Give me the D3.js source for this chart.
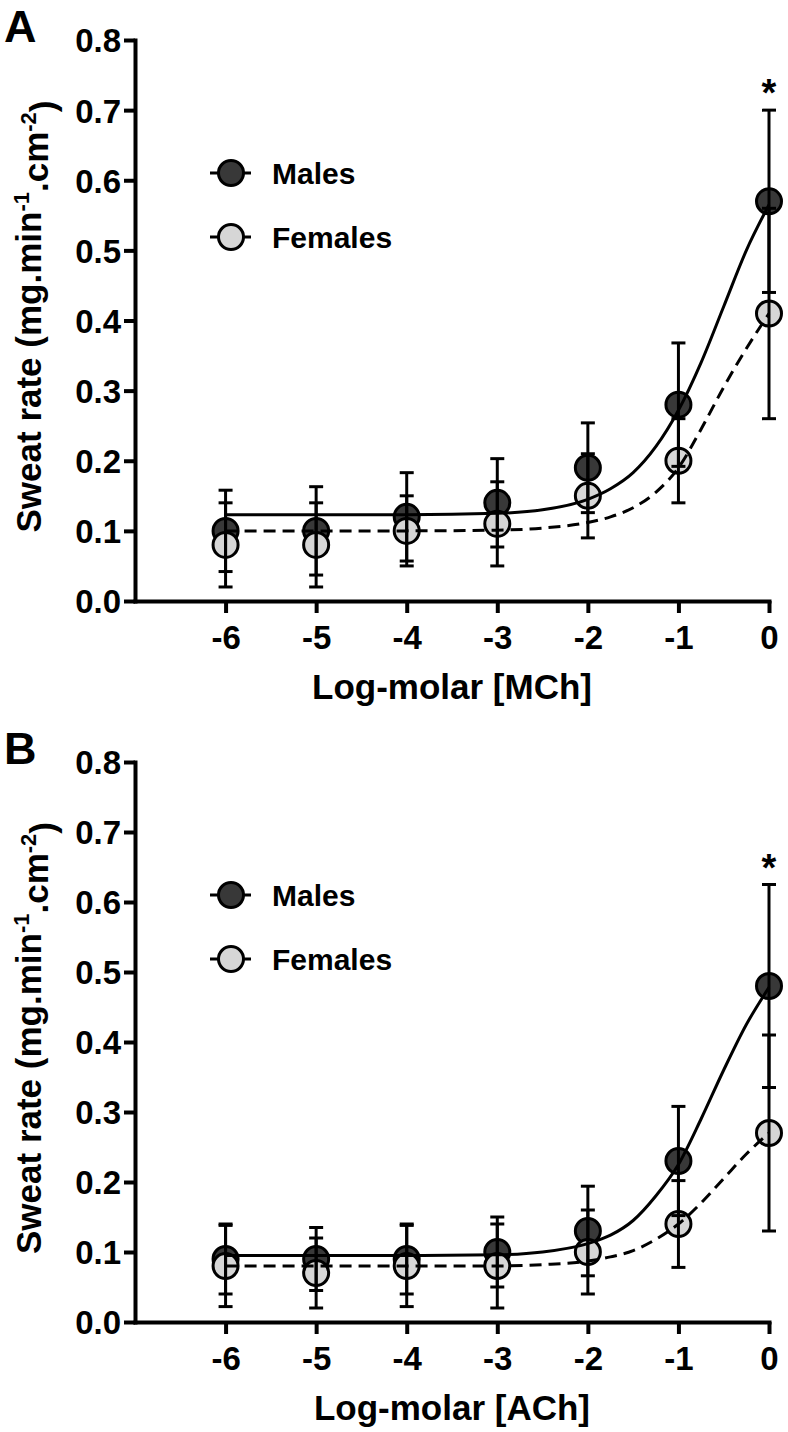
<!DOCTYPE html>
<html>
<head>
<meta charset="utf-8">
<script src="https://cdn.jsdelivr.net/npm/d3@7"></script>
<style>
  html, body { margin: 0; padding: 0; background: #fff; }
  svg text { font-family: "Liberation Sans", Arial, sans-serif; font-weight: bold; fill: #000; }
</style>
</head>
<body>
<svg id="chart" width="788" height="1432"></svg>
<script>
// ---------------- data ----------------
const doses = [-6, -5, -4, -3, -2, -1, 0];
const xTicks = [-6, -5, -4, -3, -2, -1, 0];
const yTicks = [0.0, 0.1, 0.2, 0.3, 0.4, 0.5, 0.6, 0.7, 0.8];

// Panel A: methacholine (MCh)
const mchMales      = [0.10, 0.10, 0.12, 0.14, 0.19, 0.28, 0.57];
const mchMalesSD    = [0.058, 0.063, 0.063, 0.063, 0.064, 0.088, 0.13];
const mchFemales    = [0.08, 0.08, 0.10, 0.11, 0.15, 0.20, 0.41];
const mchFemalesSD  = [0.06, 0.06, 0.05, 0.06, 0.06, 0.06, 0.15];

// Panel B: acetylcholine (ACh)
const achMales      = [0.09, 0.09, 0.09, 0.10, 0.13, 0.23, 0.48];
const achMalesSD    = [0.05, 0.045, 0.05, 0.05, 0.064, 0.078, 0.145];
const achFemales    = [0.08, 0.07, 0.08, 0.08, 0.10, 0.14, 0.27];
const achFemalesSD  = [0.058, 0.05, 0.058, 0.06, 0.06, 0.062, 0.14];

// fitted dose-response curves
const fitDoses       = [-6, -5, -4, -3, -2.5, -2, -1.75, -1.5, -1.25, -1, -0.75, -0.5, -0.25, 0];
const mchMalesFit    = [0.123, 0.123, 0.123, 0.125, 0.130, 0.145, 0.160, 0.183, 0.220, 0.272, 0.340, 0.420, 0.500, 0.565];
const mchFemalesFit  = [0.100, 0.100, 0.100, 0.101, 0.104, 0.112, 0.120, 0.133, 0.155, 0.190, 0.245, 0.305, 0.360, 0.410];
const achMalesFit    = [0.095, 0.095, 0.095, 0.096, 0.100, 0.112, 0.124, 0.145, 0.180, 0.225, 0.290, 0.360, 0.425, 0.478];
const achFemalesFit  = [0.080, 0.080, 0.080, 0.080, 0.082, 0.087, 0.093, 0.102, 0.118, 0.140, 0.170, 0.205, 0.240, 0.270];

const seriesNames = ["Males", "Females"];
const panelLetters = ["A", "B"];
const xTitles = ["Log-molar [MCh]", "Log-molar [ACh]"];
const sigMark = "*";

// ---------------- drawing ----------------
const svg = d3.select("#chart");
const maleFill = "#383838", femaleFill = "#d6d6d6";
const R = 12.5;

function drawPanel(cfg) {
  const g = svg.append("g");
  const x = d3.scaleLinear().domain([-7, 0]).range([135, 769]);
  const y = d3.scaleLinear().domain([0, 0.8]).range([cfg.bottom, cfg.top]);

  // axes
  const xAxis = g.append("g").attr("transform", `translate(0,${cfg.bottom})`)
    .call(d3.axisBottom(x).tickValues(xTicks).tickSize(12).tickSizeOuter(0).tickPadding(12).tickFormat(d3.format("d")));
  const yAxis = g.append("g").attr("transform", `translate(135,0)`)
    .call(d3.axisLeft(y).tickValues(yTicks).tickSize(11).tickSizeOuter(0).tickPadding(3).tickFormat(d3.format(".1f")));
  [xAxis, yAxis].forEach(a => {
    a.select(".domain").attr("stroke", "#000").attr("stroke-width", 4).attr("stroke-linecap", "square");
    a.selectAll(".tick line").attr("stroke", "#000").attr("stroke-width", 4);
    a.selectAll(".tick text").style("font-size", "33px").style("font-family", '"Liberation Sans", Arial, sans-serif').style("font-weight", "bold").attr("fill", "#000");
  });
  xAxis.selectAll(".tick text").attr("dy", "0.72em").text(d => d === 0 ? "0" : "-" + Math.abs(d));
  yAxis.selectAll(".tick text").attr("dy", "0.36em");

  // axis titles
  g.append("text").attr("x", 452).attr("y", cfg.bottom + 98).attr("text-anchor", "middle")
    .style("font-size", "35px").text(cfg.xTitle);
  const yt = g.append("text").attr("transform", `translate(41,${(cfg.top + cfg.bottom) / 2 - 4}) rotate(-90)`)
    .attr("text-anchor", "middle").style("font-size", "35px");
  yt.append("tspan").text("Sweat rate (mg.min");
  yt.append("tspan").attr("dy", "-0.55em").style("font-size", "22px").text("-1");
  yt.append("tspan").attr("dy", "0.55em").text(".cm");
  yt.append("tspan").attr("dy", "-0.55em").style("font-size", "22px").text("-2");
  yt.append("tspan").attr("dy", "0.55em").text(")");

  // panel letter
  g.append("text").attr("x", 4).attr("y", cfg.top + 2).style("font-size", "45px").text(cfg.letter);

  const males = doses.map((d, i) => ({ d, v: cfg.males[i], sd: cfg.malesSD[i] }));
  const females = doses.map((d, i) => ({ d, v: cfg.females[i], sd: cfg.femalesSD[i] }));

  // symbols
  g.append("g").selectAll("circle").data(males).join("circle")
    .attr("cx", p => x(p.d)).attr("cy", p => y(p.v)).attr("r", R)
    .attr("fill", maleFill).attr("stroke", "#000").attr("stroke-width", 3);
  g.append("g").selectAll("circle").data(females).join("circle")
    .attr("cx", p => x(p.d)).attr("cy", p => y(p.v)).attr("r", R)
    .attr("fill", femaleFill).attr("stroke", "#000").attr("stroke-width", 3);

  // fitted curves
  const line = d3.line().x(p => x(p[0])).y(p => y(p[1])).curve(d3.curveMonotoneX);
  g.append("path").datum(fitDoses.map((d, i) => [d, cfg.malesFit[i]]))
    .attr("d", line).attr("fill", "none").attr("stroke", "#000").attr("stroke-width", 3);
  g.append("path").datum(fitDoses.map((d, i) => [d, cfg.femalesFit[i]]))
    .attr("d", line).attr("fill", "none").attr("stroke", "#000").attr("stroke-width", 3)
    .attr("stroke-dasharray", "12,7");

  // error bars
  const eb = g.append("g").attr("stroke", "#000").attr("stroke-width", 3).attr("fill", "none");
  [...males, ...females].forEach(p => {
    const cx = x(p.d), y1 = y(p.v + p.sd), y0 = y(p.v - p.sd);
    eb.append("line").attr("x1", cx).attr("x2", cx).attr("y1", y1).attr("y2", y0);
    eb.append("line").attr("x1", cx - 7).attr("x2", cx + 7).attr("y1", y1).attr("y2", y1);
    eb.append("line").attr("x1", cx - 7).attr("x2", cx + 7).attr("y1", y0).attr("y2", y0);
  });

  // significance star
  const last = males[males.length - 1];
  g.append("text").attr("x", x(last.d)).attr("y", y(last.v + last.sd) - 4)
    .attr("text-anchor", "middle").style("font-size", "38px").text(sigMark);

  // legend
  const lg = g.append("g");
  const ly = [cfg.top + 133, cfg.top + 197];
  seriesNames.forEach((name, i) => {
    lg.append("line").attr("x1", 210).attr("x2", 251).attr("y1", ly[i]).attr("y2", ly[i])
      .attr("stroke", "#000").attr("stroke-width", 3)
      .attr("stroke-dasharray", i === 1 ? "8,21,12" : null);
    lg.append("circle").attr("cx", 231).attr("cy", ly[i]).attr("r", R)
      .attr("fill", i === 0 ? maleFill : femaleFill).attr("stroke", "#000").attr("stroke-width", 3);
    lg.append("text").attr("x", 272).attr("y", ly[i]).attr("dy", "0.36em")
      .style("font-size", "30px").text(name);
  });
}

drawPanel({ top: 40, bottom: 601, letter: panelLetters[0], xTitle: xTitles[0],
  males: mchMales, malesSD: mchMalesSD, females: mchFemales, femalesSD: mchFemalesSD,
  malesFit: mchMalesFit, femalesFit: mchFemalesFit });
drawPanel({ top: 762, bottom: 1322, letter: panelLetters[1], xTitle: xTitles[1],
  males: achMales, malesSD: achMalesSD, females: achFemales, femalesSD: achFemalesSD,
  malesFit: achMalesFit, femalesFit: achFemalesFit });
</script>
</body>
</html>
